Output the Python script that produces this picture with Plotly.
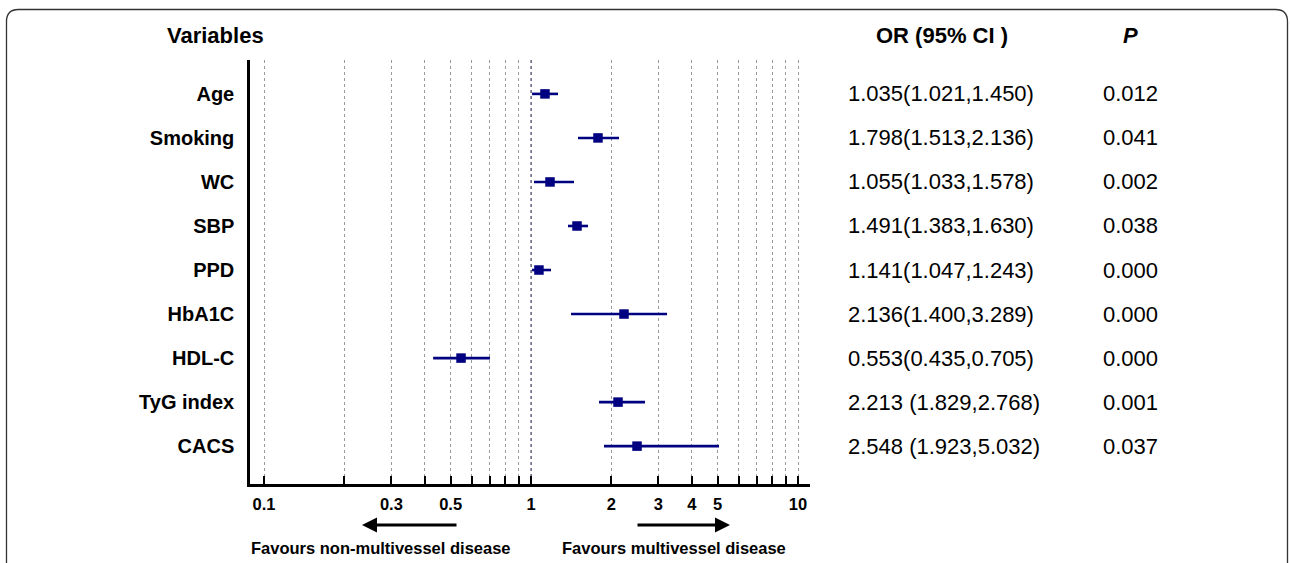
import plotly.graph_objects as go

# ---------------- data ----------------
variables = ["Age", "Smoking", "WC", "SBP", "PPD", "HbA1C", "HDL-C", "TyG index", "CACS"]
# plotted point estimates and CI bounds (as drawn in the figure)
or_plot = [1.128, 1.782, 1.178, 1.487, 1.071, 2.230, 0.547, 2.118, 2.495]
ci_low = [1.009, 1.500, 1.026, 1.376, 1.009, 1.412, 0.430, 1.798, 1.877]
ci_high = [1.262, 2.136, 1.449, 1.635, 1.188, 3.232, 0.702, 2.673, 5.060]
or_text = ["1.035(1.021,1.450)", "1.798(1.513,2.136)", "1.055(1.033,1.578)",
           "1.491(1.383,1.630)", "1.141(1.047,1.243)", "2.136(1.400,3.289)",
           "0.553(0.435,0.705)", "2.213 (1.829,2.768)", "2.548 (1.923,5.032)"]
p_text = ["0.012", "0.041", "0.002", "0.038", "0.000", "0.000", "0.000", "0.001", "0.037"]
tick_vals = [0.1, 0.2, 0.3, 0.4, 0.5, 0.6, 0.7, 0.8, 0.9, 1, 2, 3, 4, 5, 6, 7, 8, 9, 10]
tick_labels = ["0.1", "", "0.3", "", "0.5", "", "", "", "", "1", "2", "3", "4", "5", "", "", "", "", "10"]

# ---------------- layout geometry (pixels) ----------------
W, H = 1290, 563
L, R, T, B = 250, 810, 60, 484
PW, PH = R - L, B - T
X1, DEC = 531, 267  # pixel of OR=1 and pixels per decade


def px(xp):
    return (xp - L) / PW


def py(yp):
    return (B - yp) / PH


FONT = "Liberation Sans, Arial, sans-serif"
NAVY = "#000080"

rows = list(range(len(variables)))
fig = go.Figure()

# reference line at OR = 1
fig.add_trace(go.Scatter(x=[1, 1], y=[-0.77, 8.86], mode="lines",
                         line=dict(color="#5a5a80", width=1.2, dash="dot"),
                         hoverinfo="skip", showlegend=False))

fig.add_trace(go.Scatter(
    x=or_plot, y=rows, mode="markers",
    marker=dict(symbol="square", size=9.5, color=NAVY),
    error_x=dict(type="data", symmetric=False,
                 array=[h - o for h, o in zip(ci_high, or_plot)],
                 arrayminus=[o - l for o, l in zip(or_plot, ci_low)],
                 color=NAVY, thickness=2.6, width=0),
    showlegend=False))

annotations = []
# headers
annotations.append(dict(text="<b>Variables</b>", x=px(215), y=py(35), xref="paper", yref="paper",
                        xanchor="center", yanchor="middle", showarrow=False,
                        font=dict(family=FONT, size=22, color="black")))
annotations.append(dict(text="<b>OR (95% CI )</b>", x=px(942), y=py(35), xref="paper", yref="paper",
                        xanchor="center", yanchor="middle", showarrow=False,
                        font=dict(family=FONT, size=22, color="black")))
annotations.append(dict(text="<b><i>P</i></b>", x=px(1130), y=py(35), xref="paper", yref="paper",
                        xanchor="center", yanchor="middle", showarrow=False,
                        font=dict(family=FONT, size=22, color="black")))

for i in rows:
    annotations.append(dict(text=or_text[i], x=px(846), y=i, xref="paper", yref="y",
                            xanchor="left", yanchor="middle", showarrow=False,
                            font=dict(family=FONT, size=22, color="black")))
    annotations.append(dict(text=p_text[i], x=px(1130), y=i, xref="paper", yref="y",
                            xanchor="center", yanchor="middle", showarrow=False,
                            font=dict(family=FONT, size=22, color="black")))

# arrows
annotations.append(dict(text="", x=px(362), y=py(525), xref="paper", yref="paper",
                        ax=96, ay=0, showarrow=True, arrowhead=2, arrowsize=1,
                        arrowwidth=3, arrowcolor="black"))
annotations.append(dict(text="", x=px(730), y=py(525), xref="paper", yref="paper",
                        ax=-94, ay=0, showarrow=True, arrowhead=2, arrowsize=1,
                        arrowwidth=3, arrowcolor="black"))
annotations.append(dict(text="<b>Favours non-multivessel disease</b>", x=px(381), y=py(548),
                        xref="paper", yref="paper", xanchor="center", yanchor="middle",
                        showarrow=False, font=dict(family=FONT, size=16.5, color="black")))
annotations.append(dict(text="<b>Favours multivessel disease</b>", x=px(674), y=py(548),
                        xref="paper", yref="paper", xanchor="center", yanchor="middle",
                        showarrow=False, font=dict(family=FONT, size=16.5, color="black")))

# outer rounded frame
x0, x1, y0, y1, r = 6.5, 1287.5, 9.5, 600, 12
path = (f"M {px(x0)},{py(y1)} L {px(x0)},{py(y0 + r)} Q {px(x0)},{py(y0)} {px(x0 + r)},{py(y0)} "
        f"L {px(x1 - r)},{py(y0)} Q {px(x1)},{py(y0)} {px(x1)},{py(y0 + r)} L {px(x1)},{py(y1)}")
shapes = [dict(type="path", path=path, xref="paper", yref="paper",
               line=dict(color="#333333", width=1.3))]

fig.update_layout(
    width=W, height=H,
    margin=dict(l=L, r=W - R, t=T, b=H - B, pad=0),
    paper_bgcolor="white", plot_bgcolor="white",
    annotations=annotations, shapes=shapes,
    font=dict(family=FONT, color="black"),
    xaxis=dict(type="log",
               range=[(L - X1) / DEC, (R - X1) / DEC],
               tickvals=tick_vals, ticktext=tick_labels,
               ticks="inside", ticklen=8, tickwidth=1.5, tickcolor="black",
               tickfont=dict(family=FONT, size=16.5, color="black", weight="bold"),
               ticklabelstandoff=3,
               showline=True, linecolor="black", linewidth=2.5,
               showgrid=True, gridcolor="#9a9a9a", gridwidth=1, griddash="dot",
               zeroline=False, fixedrange=True),
    yaxis=dict(range=[8.86, -0.77], tickvals=rows, ticktext=variables,
               ticks="", tickfont=dict(family=FONT, size=20, color="black", weight="bold"),
               ticklabelstandoff=9,
               showline=True, linecolor="black", linewidth=2.5,
               showgrid=False, zeroline=False, fixedrange=True),
)

fig.write_html("out.html")
